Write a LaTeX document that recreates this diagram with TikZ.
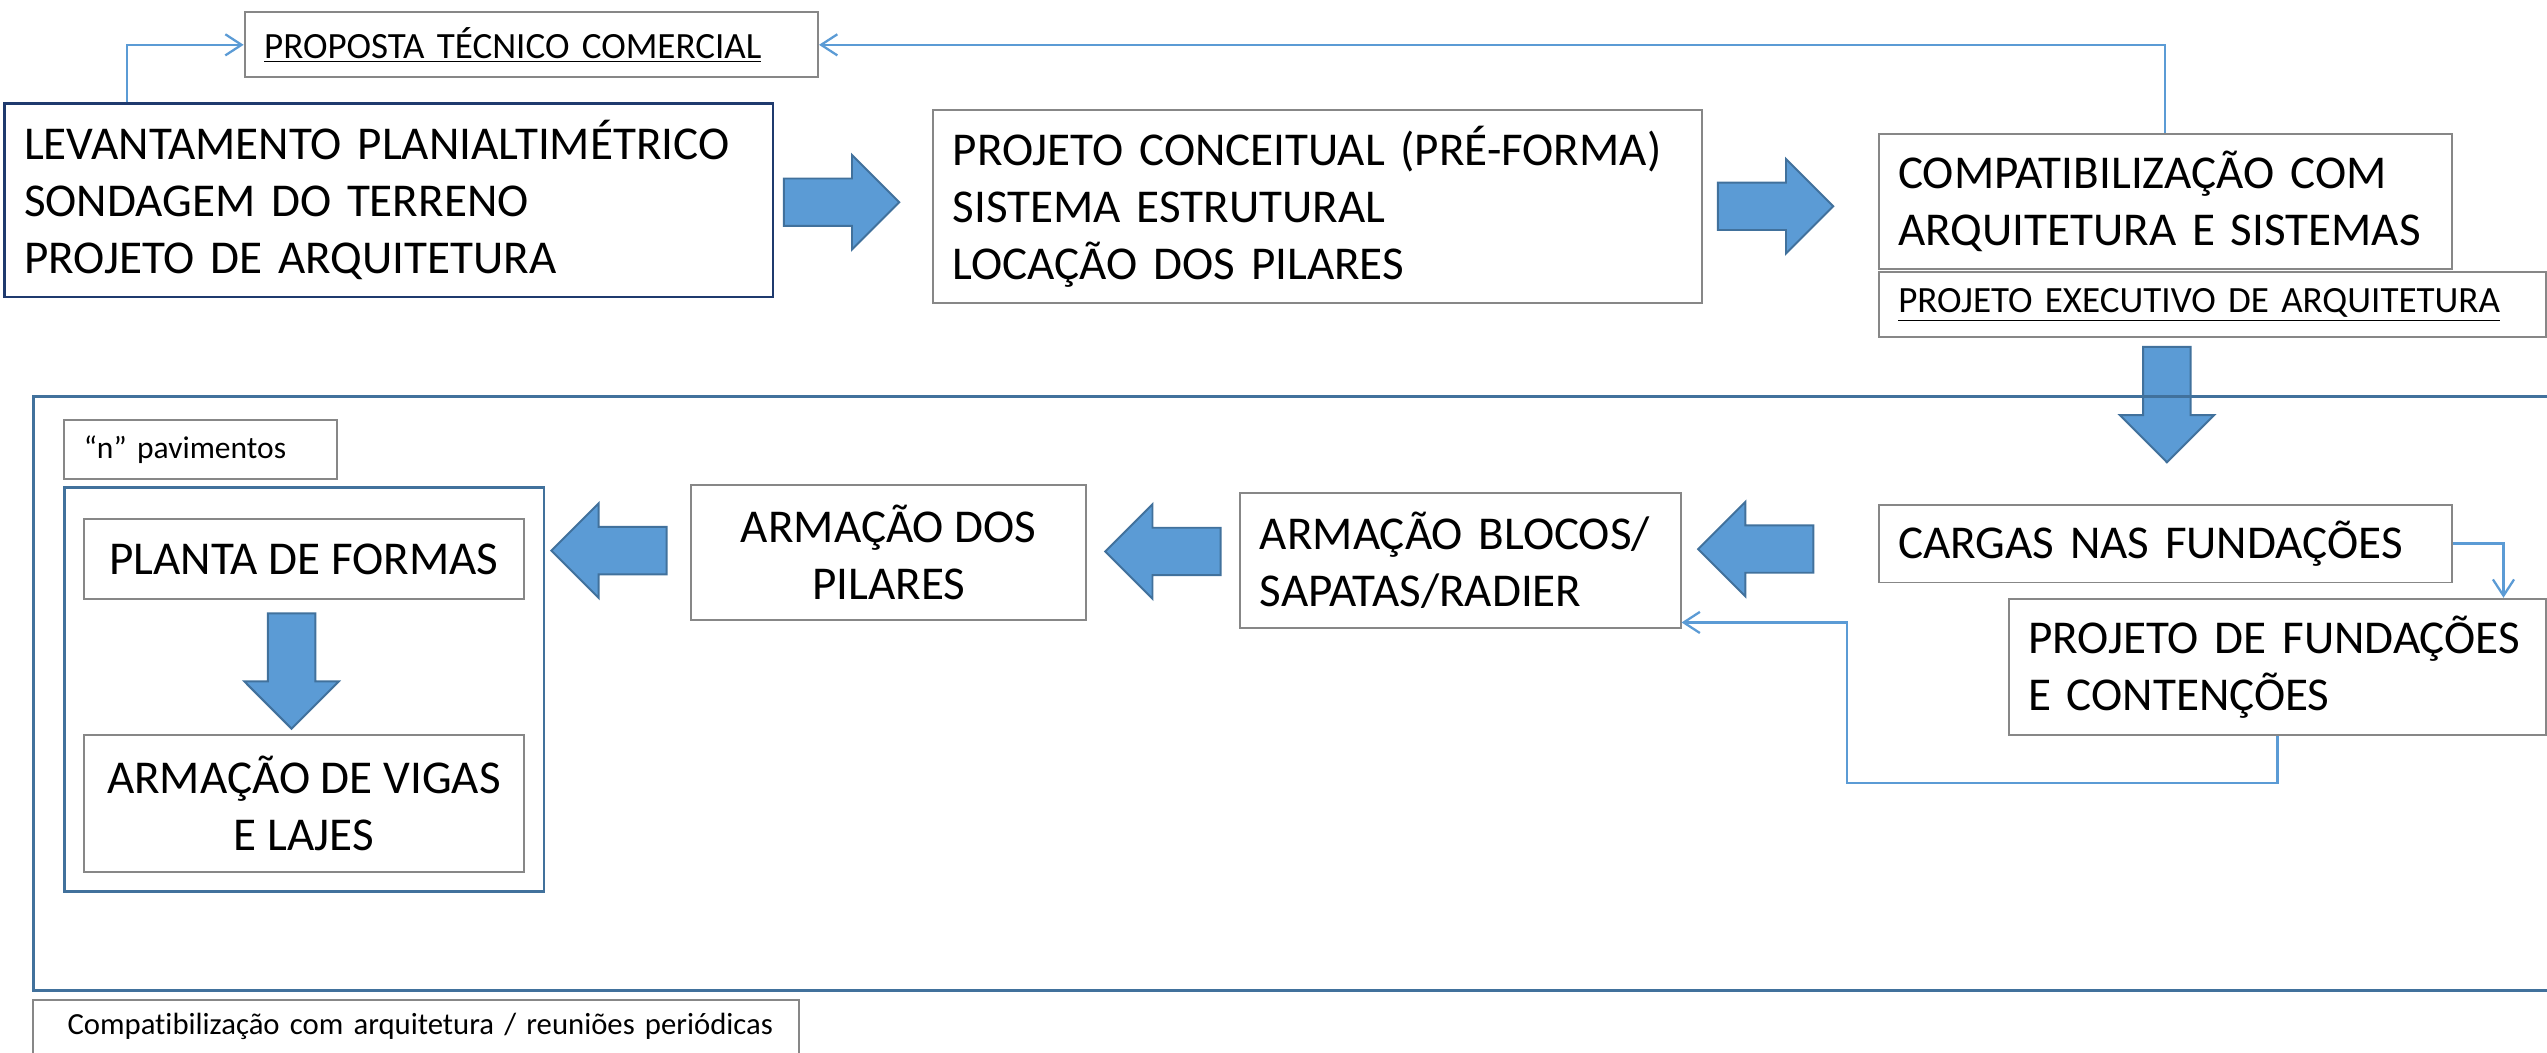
\documentclass[tikz,border=0pt]{standalone}
\usepackage{fontspec}
\setmainfont{Carlito}[Ligatures={TeX,NoCommon}]
\usepackage{xcolor}
\usetikzlibrary{shapes.arrows}
\usetikzlibrary{arrows.meta}
\definecolor{boxgray}{HTML}{878787}
\definecolor{levnavy}{HTML}{1F3A6E}
\definecolor{frameblue}{HTML}{41719C}
\definecolor{arrowfill}{HTML}{5B9BD5}
\definecolor{linkblue}{HTML}{5B9BD5}
\newcommand{\bigtxt}{\fontsize{29}{35}\selectfont}
\newcommand{\midtxt}{\fontsize{22.8}{27.6}\selectfont}
\newcommand{\smalltxt}{\fontsize{19.4}{23.5}\selectfont}
\tikzset{box/.style={draw=boxgray, line width=1.2pt, fill=white, anchor=north west, inner xsep=12pt, inner ysep=0pt},
 frame/.style={box, draw=frameblue, fill=none, line width=1.8pt},
 blockarrow/.style={single arrow, draw=frameblue, fill=arrowfill, line width=1.2pt, inner sep=14pt, anchor=tail,
   minimum height=71pt, single arrow head extend=14.5pt, single arrow tip angle=90},
 conn/.style={draw=linkblue, line width=1.4pt, -{Straight Barb[length=10pt,width=13pt]}},
 }

\begin{document}
\begin{tikzpicture}[x=1pt,y=-1pt]
        \useasboundingbox (0,0) rectangle (1568,648);
        \node[box, minimum width=353pt, minimum height=40pt, text width=329pt, align=left, font=\midtxt] (prop) at (150,7) {\underline{PROPOSTA TÉCNICO COMERCIAL}};
        \node[box, draw=levnavy, line width=1.6pt, minimum width=473pt, minimum height=119pt, text width=449pt, align=left, font=\bigtxt] (lev) at (2,63) {LEVANTAMENTO PLANIALTIMÉTRICO\\SONDAGEM DO TERRENO\\PROJETO DE ARQUITETURA};
        \node[blockarrow] (a1) at (482,124.5) {};
        \node[box, minimum width=473pt, minimum height=119pt, text width=449pt, align=left, font=\bigtxt] (conc) at (574,67) {PROJETO CONCEITUAL (PRÉ-FORMA)\\SISTEMA ESTRUTURAL\\LOCAÇÃO DOS PILARES};
        \node[blockarrow] (a2) at (1057,127) {};
        \node[box, minimum width=353pt, minimum height=83pt, text width=329pt, align=left, font=\bigtxt] (comp) at (1156,82) {COMPATIBILIZAÇÃO COM\\ARQUITETURA E SISTEMAS};
        \node[box, minimum width=411pt, minimum height=40pt, text width=387pt, align=left, font=\midtxt] (exec) at (1156,167) {\underline{PROJETO EXECUTIVO DE ARQUITETURA}};
        \node[blockarrow, shape border rotate=270] (a3) at (1334,213) {};
        \node[frame, minimum width=1560pt, minimum height=366pt] (outer) at (20,243) {};
        \node[box, minimum width=471pt, inner xsep=0pt, text width=471pt, align=left, text height=21pt, text depth=30pt, font=\fontsize{18.9}{23}\selectfont] (reun) at (20,615) {\hspace*{21pt}Compatibilização com arquitetura / reuniões periódicas};
        \node[box, minimum width=168pt, minimum height=36pt, text width=144pt, align=left, font=\smalltxt] (npav) at (39,258) {“n” pavimentos};
        \node[frame, minimum width=295pt, minimum height=249pt] (grp) at (39,299) {};
        \node[box, minimum width=271pt, minimum height=49pt, font=\bigtxt] (planta) at (51,319) {PLANTA DE FORMAS};
        \node[blockarrow, shape border rotate=270] (a4) at (179.5,377) {};
        \node[box, minimum width=271pt, minimum height=84pt, align=center, font=\bigtxt] (vigas) at (51,452) {ARMAÇÃO DE VIGAS\\E LAJES};
        \node[blockarrow, shape border rotate=180] (a5) at (411,339) {};
        \node[box, minimum width=243pt, minimum height=83pt, align=center, font=\bigtxt] (pil) at (425,298) {ARMAÇÃO DOS\\PILARES};
        \node[blockarrow, shape border rotate=180] (a6) at (752,339.5) {};
        \node[box, minimum width=271pt, minimum height=83pt, text width=247pt, align=left, font=\bigtxt] (blocos) at (763,303) {ARMAÇÃO BLOCOS/\\SAPATAS/RADIER};
        \node[blockarrow, shape border rotate=180] (a7) at (1117,338) {};
        \node[box, minimum width=353pt, minimum height=48pt, text width=329pt, align=left, font=\bigtxt] (cargas) at (1156,310) {CARGAS NAS FUNDAÇÕES};
        \node[box, minimum width=331pt, minimum height=84pt, text width=307pt, align=left, font=\bigtxt] (fund) at (1236,368) {PROJETO DE FUNDAÇÕES\\E CONTENÇÕES};
        \draw[conn] ([xshift=76pt]lev.north west) |- (prop.west);
        \draw[conn] ([xshift=177pt]comp.north west) |- (prop.east);
        \draw[conn] (cargas.east) -| ([xshift=-27pt]fund.north east);
        \coordinate (loop) at (1137,482);
        \draw[conn] ([xshift=166pt]fund.south west) |- (loop) |- ([yshift=4pt]blocos.south east);
    \end{tikzpicture}
\end{document}
